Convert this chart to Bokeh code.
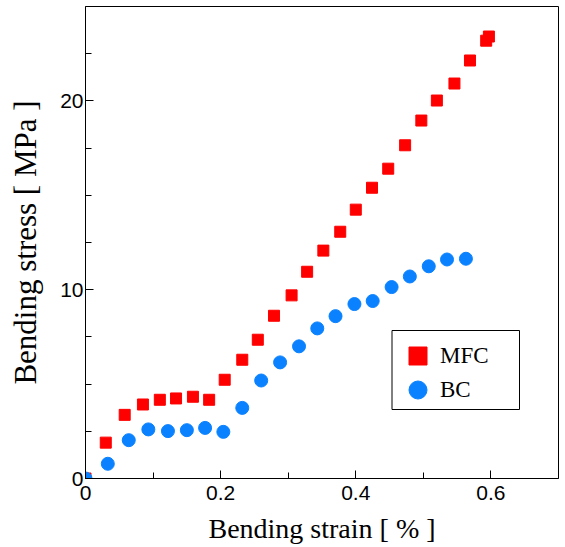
from bokeh.plotting import figure
from bokeh.models import FixedTicker, Legend, LegendItem, BoxAnnotation
from bokeh.embed import file_html
from bokeh.resources import INLINE

# ---- data ----
mfc_strain = [0.0, 0.030, 0.058, 0.085, 0.110, 0.134, 0.159, 0.183, 0.206, 0.232,
              0.255, 0.279, 0.305, 0.328, 0.352, 0.377, 0.400, 0.424, 0.448, 0.473,
              0.497, 0.520, 0.546, 0.569, 0.593, 0.597]
mfc_stress = [0.0, 1.90, 3.37, 3.92, 4.17, 4.24, 4.33, 4.17, 5.23, 6.29,
              7.35, 8.62, 9.70, 10.95, 12.07, 13.07, 14.24, 15.40, 16.41, 17.65,
              18.96, 20.02, 20.92, 22.14, 23.19, 23.41]
bc_strain = [0.0, 0.033, 0.064, 0.093, 0.122, 0.150, 0.177, 0.204, 0.232, 0.260,
             0.288, 0.316, 0.343, 0.370, 0.398, 0.425, 0.453, 0.480, 0.508, 0.535, 0.563]
bc_stress = [0.0, 0.78, 2.03, 2.60, 2.51, 2.56, 2.68, 2.47, 3.74, 5.19,
             6.15, 7.00, 7.95, 8.60, 9.24, 9.40, 10.14, 10.70, 11.24, 11.60, 11.64]

x_ticks = [0, 0.2, 0.4, 0.6]
x_tick_labels = ["0", "0.2", "0.4", "0.6"]
x_minor = [0.1, 0.3, 0.5]
y_ticks = [0, 10, 20]
y_tick_labels = ["0", "10", "20"]
y_minor = [2.5, 5, 7.5, 12.5, 15, 17.5, 22.5]

series_names = ["MFC", "BC"]
x_title = "Bending strain [ % ]"
y_title = "Bending stress [ MPa ]"

p = figure(width=562, height=546, x_range=(0, 0.7), y_range=(0, 25),
           output_backend="svg", toolbar_location=None,
           min_border_left=85, min_border_right=4, min_border_top=6,
           min_border_bottom=68)

p.xgrid.visible = False
p.ygrid.visible = False
p.outline_line_color = "black"
p.outline_line_width = 1
p.background_fill_color = "white"
p.border_fill_color = "white"

r1 = p.scatter(x=mfc_strain, y=mfc_stress, marker="square", size=11,
               fill_color="#ff0000", line_color="#ff0000")
r2 = p.scatter(x=bc_strain, y=bc_stress, marker="circle", size=13,
               fill_color="#0a82ff", line_color="#0a82ff")

for ax in (p.xaxis[0], p.yaxis[0]):
    ax.axis_line_color = "black"
    ax.axis_line_width = 1
    ax.major_tick_in = 8
    ax.major_tick_out = 0
    ax.minor_tick_in = 6
    ax.minor_tick_out = 0
    ax.major_tick_line_color = "black"
    ax.minor_tick_line_color = "black"
    ax.major_label_text_font = "Liberation Sans"
    ax.major_label_text_font_size = "21px"
    ax.major_label_text_color = "black"
    ax.axis_label_text_font = "Liberation Serif"
    ax.axis_label_text_font_style = "normal"
    ax.axis_label_text_color = "black"

p.xaxis.axis_label_text_font_size = "28px"
p.yaxis.axis_label_text_font_size = "31px"
p.xaxis.ticker = FixedTicker(ticks=x_ticks, minor_ticks=x_minor)
p.yaxis.ticker = FixedTicker(ticks=y_ticks, minor_ticks=y_minor)
p.xaxis.major_label_overrides = {t: l for t, l in zip(x_ticks, x_tick_labels)}
p.yaxis.major_label_overrides = {t: l for t, l in zip(y_ticks, y_tick_labels)}
p.xaxis.axis_label = x_title
p.yaxis.axis_label = y_title
p.xaxis.major_label_standoff = 7
p.yaxis.major_label_standoff = 2
p.xaxis.axis_label_standoff = 10
p.yaxis.axis_label_standoff = 14

# legend frame
frame_box = BoxAnnotation(left=391.5, right=519, top=330, bottom=409,
                          left_units="canvas", right_units="canvas",
                          top_units="canvas", bottom_units="canvas",
                          fill_color="white", fill_alpha=1,
                          line_color="black", line_width=1, line_alpha=1)
p.add_layout(frame_box)


def make_legend(name, renderer, loc):
    lg = Legend(items=[LegendItem(label=name, renderers=[renderer])], location=loc,
                label_text_font="Times New Roman", label_text_font_size="23px",
                label_text_font_style="normal", label_text_color="black")
    lg.border_line_alpha = 0
    lg.background_fill_alpha = 0
    lg.glyph_width = 45
    lg.glyph_height = 45
    lg.label_height = 45
    lg.label_width = 60
    lg.label_standoff = 0
    lg.padding = 0
    lg.spacing = 0
    lg.margin = 0
    return lg


p.add_layout(make_legend(series_names[0], r1, (310, 100)), "center")
p.add_layout(make_legend(series_names[1], r2, (310, 66)), "center")

open("out.html", "w").write(file_html(p, INLINE))
